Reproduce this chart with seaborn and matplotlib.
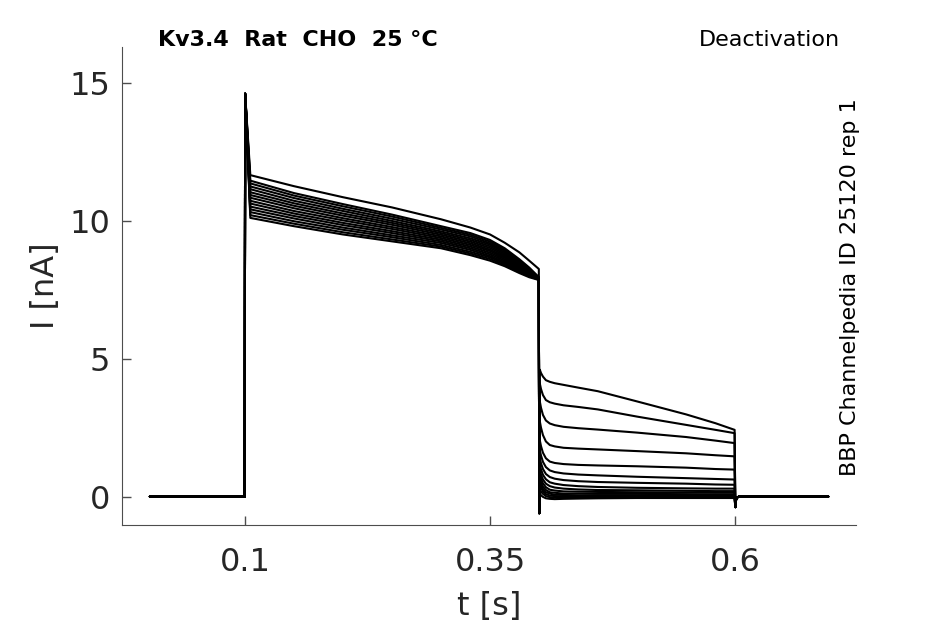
import numpy as np
import pandas as pd
import seaborn as sns
import matplotlib.pyplot as plt

# Time points (s)
t_rest = [0.003, 0.0998]
t_peak = [0.1002]
t_pre = [0.1055, 0.15, 0.2, 0.25, 0.3, 0.33, 0.35, 0.365, 0.38, 0.39, 0.3998]
t_dip = [0.4002]
t_tail = [0.4008, 0.402, 0.404, 0.407, 0.411, 0.416, 0.425, 0.44, 0.46,
          0.5, 0.55, 0.58, 0.5995]
t_post = [0.6002, 0.6006, 0.602, 0.604, 0.695]

# Currents (nA)
rest_I = [0.0, 0.0]
peak_I = [14.6]
dip_I = [-0.6]
post_I = [-0.38, -0.15, -0.03, 0.0, 0.0]

# one row per sweep, prepulse phase
pre_I = [
    [11.65, 11.25, 10.85, 10.48, 10.05, 9.75, 9.50, 9.20, 8.85, 8.55, 8.25],
    [11.45, 11.00, 10.60, 10.22, 9.80, 9.55, 9.30, 9.00, 8.60, 8.30, 7.95],
    [11.35, 10.91, 10.52, 10.15, 9.74, 9.49, 9.24, 8.95, 8.56, 8.27, 7.94],
    [11.24, 10.82, 10.43, 10.07, 9.68, 9.43, 9.18, 8.90, 8.52, 8.25, 7.93],
    [11.14, 10.72, 10.35, 9.99, 9.61, 9.36, 9.13, 8.85, 8.49, 8.22, 7.93],
    [11.03, 10.63, 10.26, 9.92, 9.55, 9.30, 9.07, 8.80, 8.45, 8.19, 7.92],
    [10.93, 10.54, 10.18, 9.85, 9.49, 9.24, 9.01, 8.75, 8.41, 8.17, 7.91],
    [10.83, 10.45, 10.09, 9.77, 9.43, 9.18, 8.95, 8.70, 8.37, 8.14, 7.90],
    [10.72, 10.35, 10.01, 9.70, 9.37, 9.12, 8.90, 8.65, 8.33, 8.11, 7.90],
    [10.62, 10.26, 9.92, 9.62, 9.31, 9.06, 8.84, 8.60, 8.29, 8.09, 7.89],
    [10.51, 10.17, 9.84, 9.55, 9.25, 9.00, 8.78, 8.55, 8.25, 8.06, 7.88],
    [10.41, 10.08, 9.75, 9.47, 9.19, 8.94, 8.72, 8.50, 8.22, 8.03, 7.87],
    [10.31, 9.98, 9.67, 9.40, 9.12, 8.87, 8.67, 8.45, 8.18, 8.00, 7.87],
    [10.20, 9.89, 9.58, 9.32, 9.06, 8.81, 8.61, 8.40, 8.14, 7.98, 7.86],
    [10.10, 9.80, 9.50, 9.25, 9.00, 8.75, 8.55, 8.35, 8.10, 7.95, 7.85],
]

# one row per sweep, tail phase
tail_I = [
    [4.60, 4.48, 4.35, 4.22, 4.16, 4.11, 4.05, 3.95, 3.82, 3.45, 2.98, 2.66, 2.42],
    [4.10, 3.90, 3.68, 3.50, 3.42, 3.37, 3.31, 3.25, 3.16, 2.90, 2.60, 2.42, 2.30],
    [3.45, 3.22, 2.96, 2.76, 2.65, 2.59, 2.53, 2.48, 2.43, 2.32, 2.16, 2.03, 1.94],
    [2.73, 2.50, 2.23, 2.00, 1.87, 1.82, 1.77, 1.74, 1.71, 1.65, 1.57, 1.50, 1.46],
    [2.04, 1.83, 1.59, 1.39, 1.27, 1.22, 1.18, 1.15, 1.13, 1.10, 1.05, 1.00, 0.98],
    [1.68, 1.49, 1.26, 1.07, 0.95, 0.89, 0.84, 0.80, 0.77, 0.72, 0.67, 0.64, 0.62],
    [1.39, 1.21, 1.00, 0.82, 0.71, 0.65, 0.60, 0.56, 0.53, 0.50, 0.47, 0.44, 0.43],
    [1.16, 0.99, 0.79, 0.63, 0.52, 0.47, 0.42, 0.38, 0.35, 0.32, 0.30, 0.29, 0.29],
    [0.96, 0.80, 0.62, 0.47, 0.38, 0.33, 0.29, 0.26, 0.24, 0.23, 0.21, 0.20, 0.20],
    [0.79, 0.65, 0.48, 0.34, 0.25, 0.22, 0.19, 0.18, 0.17, 0.16, 0.15, 0.14, 0.14],
    [0.64, 0.51, 0.36, 0.24, 0.16, 0.14, 0.11, 0.11, 0.10, 0.10, 0.09, 0.08, 0.08],
    [0.53, 0.41, 0.27, 0.16, 0.11, 0.07, 0.06, 0.05, 0.05, 0.05, 0.05, 0.05, 0.05],
    [0.41, 0.31, 0.19, 0.09, 0.04, 0.02, 0.01, 0.01, 0.01, 0.01, 0.01, 0.01, 0.01],
    [0.26, 0.18, 0.10, 0.02, -0.02, -0.03, -0.04, -0.04, -0.03, -0.03, -0.02, -0.02, -0.02],
    [0.10, 0.05, -0.01, -0.06, -0.08, -0.09, -0.08, -0.07, -0.06, -0.05, -0.05, -0.05, -0.05],
]

x_ticks = [0.1, 0.35, 0.6]
x_labels = ["0.1", "0.35", "0.6"]
y_ticks = [0, 5, 10, 15]

# long-form table, one sweep per unit
t_all = t_rest + t_peak + t_pre + t_dip + t_tail + t_post
rows = []
for k in range(len(pre_I)):
    i_all = rest_I + peak_I + pre_I[k] + dip_I + tail_I[k] + post_I
    for t, i in zip(t_all, i_all):
        rows.append((k, t, i))
df = pd.DataFrame(rows, columns=["sweep", "t", "I"])

sns.set_style("ticks", {"xtick.direction": "in", "ytick.direction": "in",
                        "axes.edgecolor": "0.3"})
plt.rcParams["font.family"] = ["DejaVu Sans"]

fig = plt.figure(figsize=(9.45, 6.24), dpi=100)
ax = fig.add_axes([0.129, 0.159, 0.777, 0.766])

sns.lineplot(data=df, x="t", y="I", units="sweep", estimator=None,
             color="black", linewidth=1.5, legend=False, ax=ax)

ax.set_xlim(-0.0255, 0.7235)
ax.set_ylim(-1.02, 16.3)
ax.set_xticks(x_ticks)
ax.set_xticklabels(x_labels)
ax.set_yticks(y_ticks)
ax.tick_params(labelsize=23, length=6.5, width=1, colors="0.3", labelcolor="0.15")
ax.tick_params(axis="x", pad=16)
ax.tick_params(axis="y", pad=8.5)
ax.set_xlabel("t [s]", fontsize=23, color="0.15", labelpad=9)
ax.set_ylabel("I [nA]", fontsize=23, color="0.15", labelpad=6)
sns.despine(ax=ax)

fig.text(0.167, 0.926, "Kv3.4  Rat  CHO  25 °C", fontsize=16, fontweight="bold",
         color="black", ha="left", va="baseline")
fig.text(0.889, 0.926, "Deactivation", fontsize=16, color="black",
         ha="right", va="baseline")
fig.text(0.899, 0.54, "BBP Channelpedia ID 25120 rep 1", fontsize=16,
         color="black", rotation=90, ha="center", va="center")

fig.savefig("out.png", dpi=100)
